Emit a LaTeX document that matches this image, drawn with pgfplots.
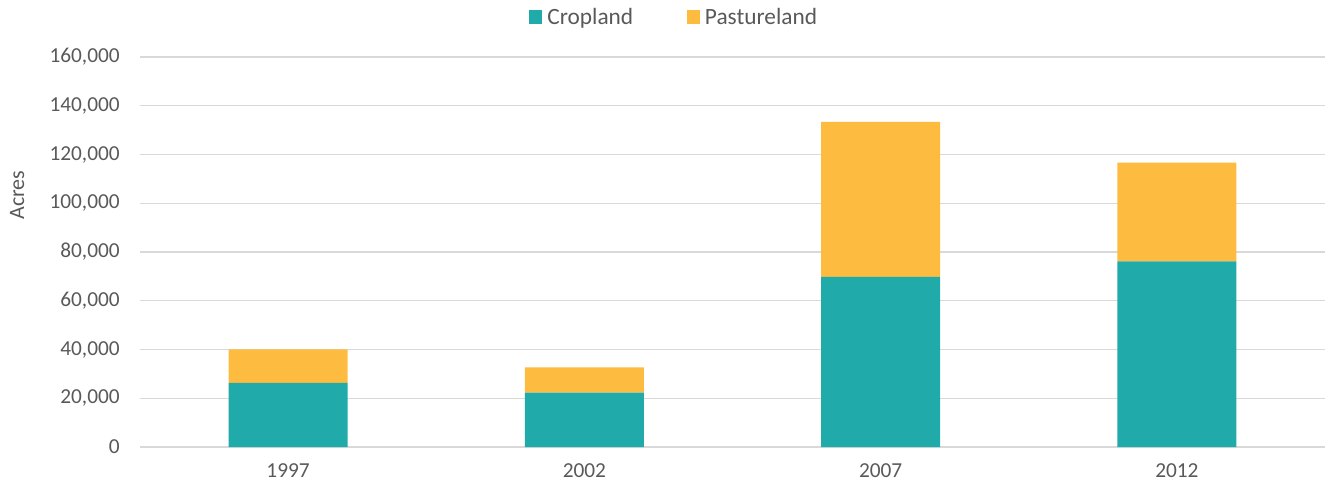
\documentclass[border=0pt]{standalone}
\usepackage{pgfplots}
\pgfplotsset{compat=1.18}
\usepackage{fontspec}
\setmainfont{Carlito}
\definecolor{crop}{HTML}{20ABAA}
\definecolor{past}{HTML}{FDBB40}
\definecolor{gridc}{HTML}{D9D9D9}
\definecolor{txt}{HTML}{595959}
\begin{document}
\begin{tikzpicture}
\path[use as bounding box] (-105pt,-31.5pt) rectangle (892.5pt,335.25pt);
\begin{axis}[
  at={(0,0)}, anchor=south west,
  scale only axis,
  width=888.75pt, height=292.5pt,
  ybar stacked, bar width=89.25pt,
  xmin=-0.5, xmax=3.5,
  ymin=0, ymax=160000,
  ytick={0,20000,40000,60000,80000,100000,120000,140000,160000},
  yticklabels={0,{20,000},{40,000},{60,000},{80,000},{100,000},{120,000},{140,000},{160,000}},
  xtick=data,
  xticklabels={1997,2002,2007,2012},
  scaled y ticks=false,
  major tick length=0pt,
  axis line style={draw=none},
  ymajorgrids, grid style={gridc, line width=1.1pt},
  tick label style={font=\fontsize{16}{18}\selectfont, text=txt},
  yticklabel style={inner sep=0pt, xshift=-15pt},
  xticklabel style={inner sep=0pt, yshift=-12pt},
  ylabel={Acres},
  ylabel style={font=\fontsize{16.5}{18}\selectfont, text=txt, at={(axis description cs:-0.1036,0.646)}, anchor=center},
  legend columns=2,
  legend style={at={(axis description cs:0.451,1.1026)}, anchor=center, draw=none, fill=none,
    font=\fontsize{17.5}{20}\selectfont, text=txt,
    /tikz/every odd column/.append style={column sep=2pt},
    /tikz/every even column/.append style={column sep=38pt}},
  legend image code/.code={\fill[#1, draw=none] (0pt,-4.9pt) rectangle (9.75pt,4.9pt);},
]
\addplot[fill=crop, draw=none] coordinates {(0,26300) (1,22300) (2,69800) (3,76200)};
\addplot[fill=past, draw=none] coordinates {(0,13800) (1,10400) (2,63600) (3,40500)};
\legend{Cropland,Pastureland}
\end{axis}
\end{tikzpicture}
\end{document}
